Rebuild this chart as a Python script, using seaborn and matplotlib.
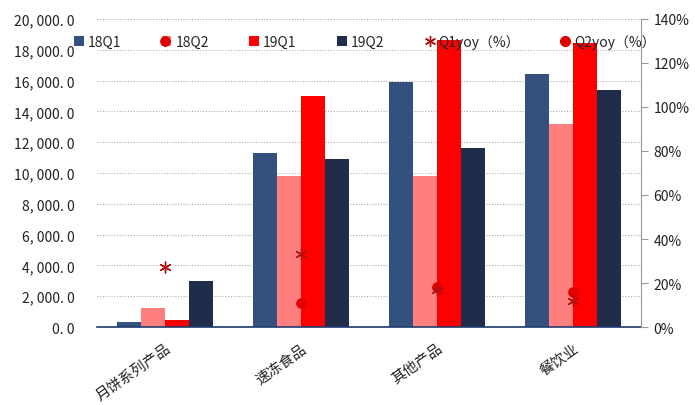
import numpy as np
import pandas as pd
import seaborn as sns
import matplotlib.pyplot as plt
from matplotlib.lines import Line2D
from matplotlib.patches import Patch
from matplotlib.ticker import FuncFormatter, PercentFormatter

categories = ["月饼系列产品", "速冻食品", "其他产品", "餐饮业"]
series = ["18Q1", "18Q2", "19Q1", "19Q2"]
v18q1 = [350, 11300, 15900, 16400]
v18q2 = [1250, 9800, 9800, 13200]
v19q1 = [450, 15000, 18600, 18450]
v19q2 = [3000, 10900, 11600, 15400]
q1yoy = [0.274, 0.33, 0.17, 0.12]
q2yoy = [1.30, 0.11, 0.18, 0.16]

colors = ["#33507F", "#FF7F7F", "#FF0000", "#1F2D4A"]

sns.set_style("white")
plt.rcParams["font.family"] = ["Noto Sans CJK SC", "DejaVu Sans"]

df = pd.DataFrame({
    "cat": categories * 4,
    "series": np.repeat(series, 4),
    "value": v18q1 + v18q2 + v19q1 + v19q2,
})

fig = plt.figure(figsize=(6.95, 4.06), dpi=100)
ax = fig.add_axes([0.1396, 0.192, 0.7827, 0.759])

sns.barplot(data=df, x="cat", y="value", hue="series", palette=colors,
            width=0.71, gap=0, saturation=1, linewidth=0, ax=ax, legend=False)

ax.set_xlim(-0.5, 3.5)
ax.set_ylim(0, 20000)
ax.set_yticks(np.arange(0, 20001, 2000))
ax.yaxis.set_major_formatter(FuncFormatter(
    lambda v, p: f"{v:,.1f}".replace(",", ", ").replace(".", ". ")))
ax.grid(axis="y", color="#b0b0b0", linestyle=(0, (1, 1.5)), linewidth=0.8)
ax.set_axisbelow(True)
ax.set_xlabel("")
ax.set_ylabel("")
for s in ["top", "right", "left"]:
    ax.spines[s].set_visible(False)
ax.spines["bottom"].set_color("#1F3A6E")
ax.spines["bottom"].set_linewidth(1.2)
ax.set_xticks(range(len(categories)))
ax.set_xticklabels(categories, rotation=35, ha="right", rotation_mode="anchor",
                   fontsize=10.5, color="#222222")
ax.set_xticks(np.arange(-0.5, 4, 1), minor=True)
ax.tick_params(axis="x", which="major", length=0, pad=10)
ax.tick_params(axis="x", which="minor", direction="in", length=5,
               color="#1F3A6E", width=1.2)
ax.tick_params(axis="y", length=0, labelsize=10, labelcolor="#222222", pad=16)

ax2 = ax.twinx()
ax2.set_ylim(0, 1.4)
ax2.set_yticks(np.arange(0, 1.41, 0.2))
ax2.yaxis.set_major_formatter(PercentFormatter(1.0, decimals=0))
for s in ["top", "left", "bottom"]:
    ax2.spines[s].set_visible(False)
ax2.spines["right"].set_color("#999999")
ax2.tick_params(axis="y", direction="out", length=5, color="#999999",
                labelsize=10, labelcolor="#222222", pad=4)
ax2.grid(False)

xpos = np.arange(len(categories))

handles = [Patch(facecolor=c, edgecolor="none") for c in colors]
handles += [
    Line2D([], [], linestyle="none", marker=(6, 2, 0), markersize=8,
           color="#B01010", markeredgewidth=1.0),
    Line2D([], [], linestyle="none", marker="o", markersize=7,
           color="#E00000"),
]
labels = series + ["Q1yoy（%）", "Q2yoy（%）"]
leg = ax2.legend(handles, labels, loc="center", bbox_to_anchor=(0.525, 0.896),
                 bbox_transform=fig.transFigure, ncol=6, frameon=False,
                 fontsize=10, handlelength=0.7, handleheight=0.7,
                 handletextpad=0.3, columnspacing=2.9)
leg.set_zorder(3)

ax2.scatter(xpos, q2yoy, marker="o", s=45, color="#E00000", zorder=5,
            clip_on=False)
ax2.scatter(xpos, q1yoy, marker=(6, 2, 0), s=60, color="#B01010",
            linewidths=1.0, zorder=6, clip_on=False)

fig.savefig("out.png", dpi=100)
